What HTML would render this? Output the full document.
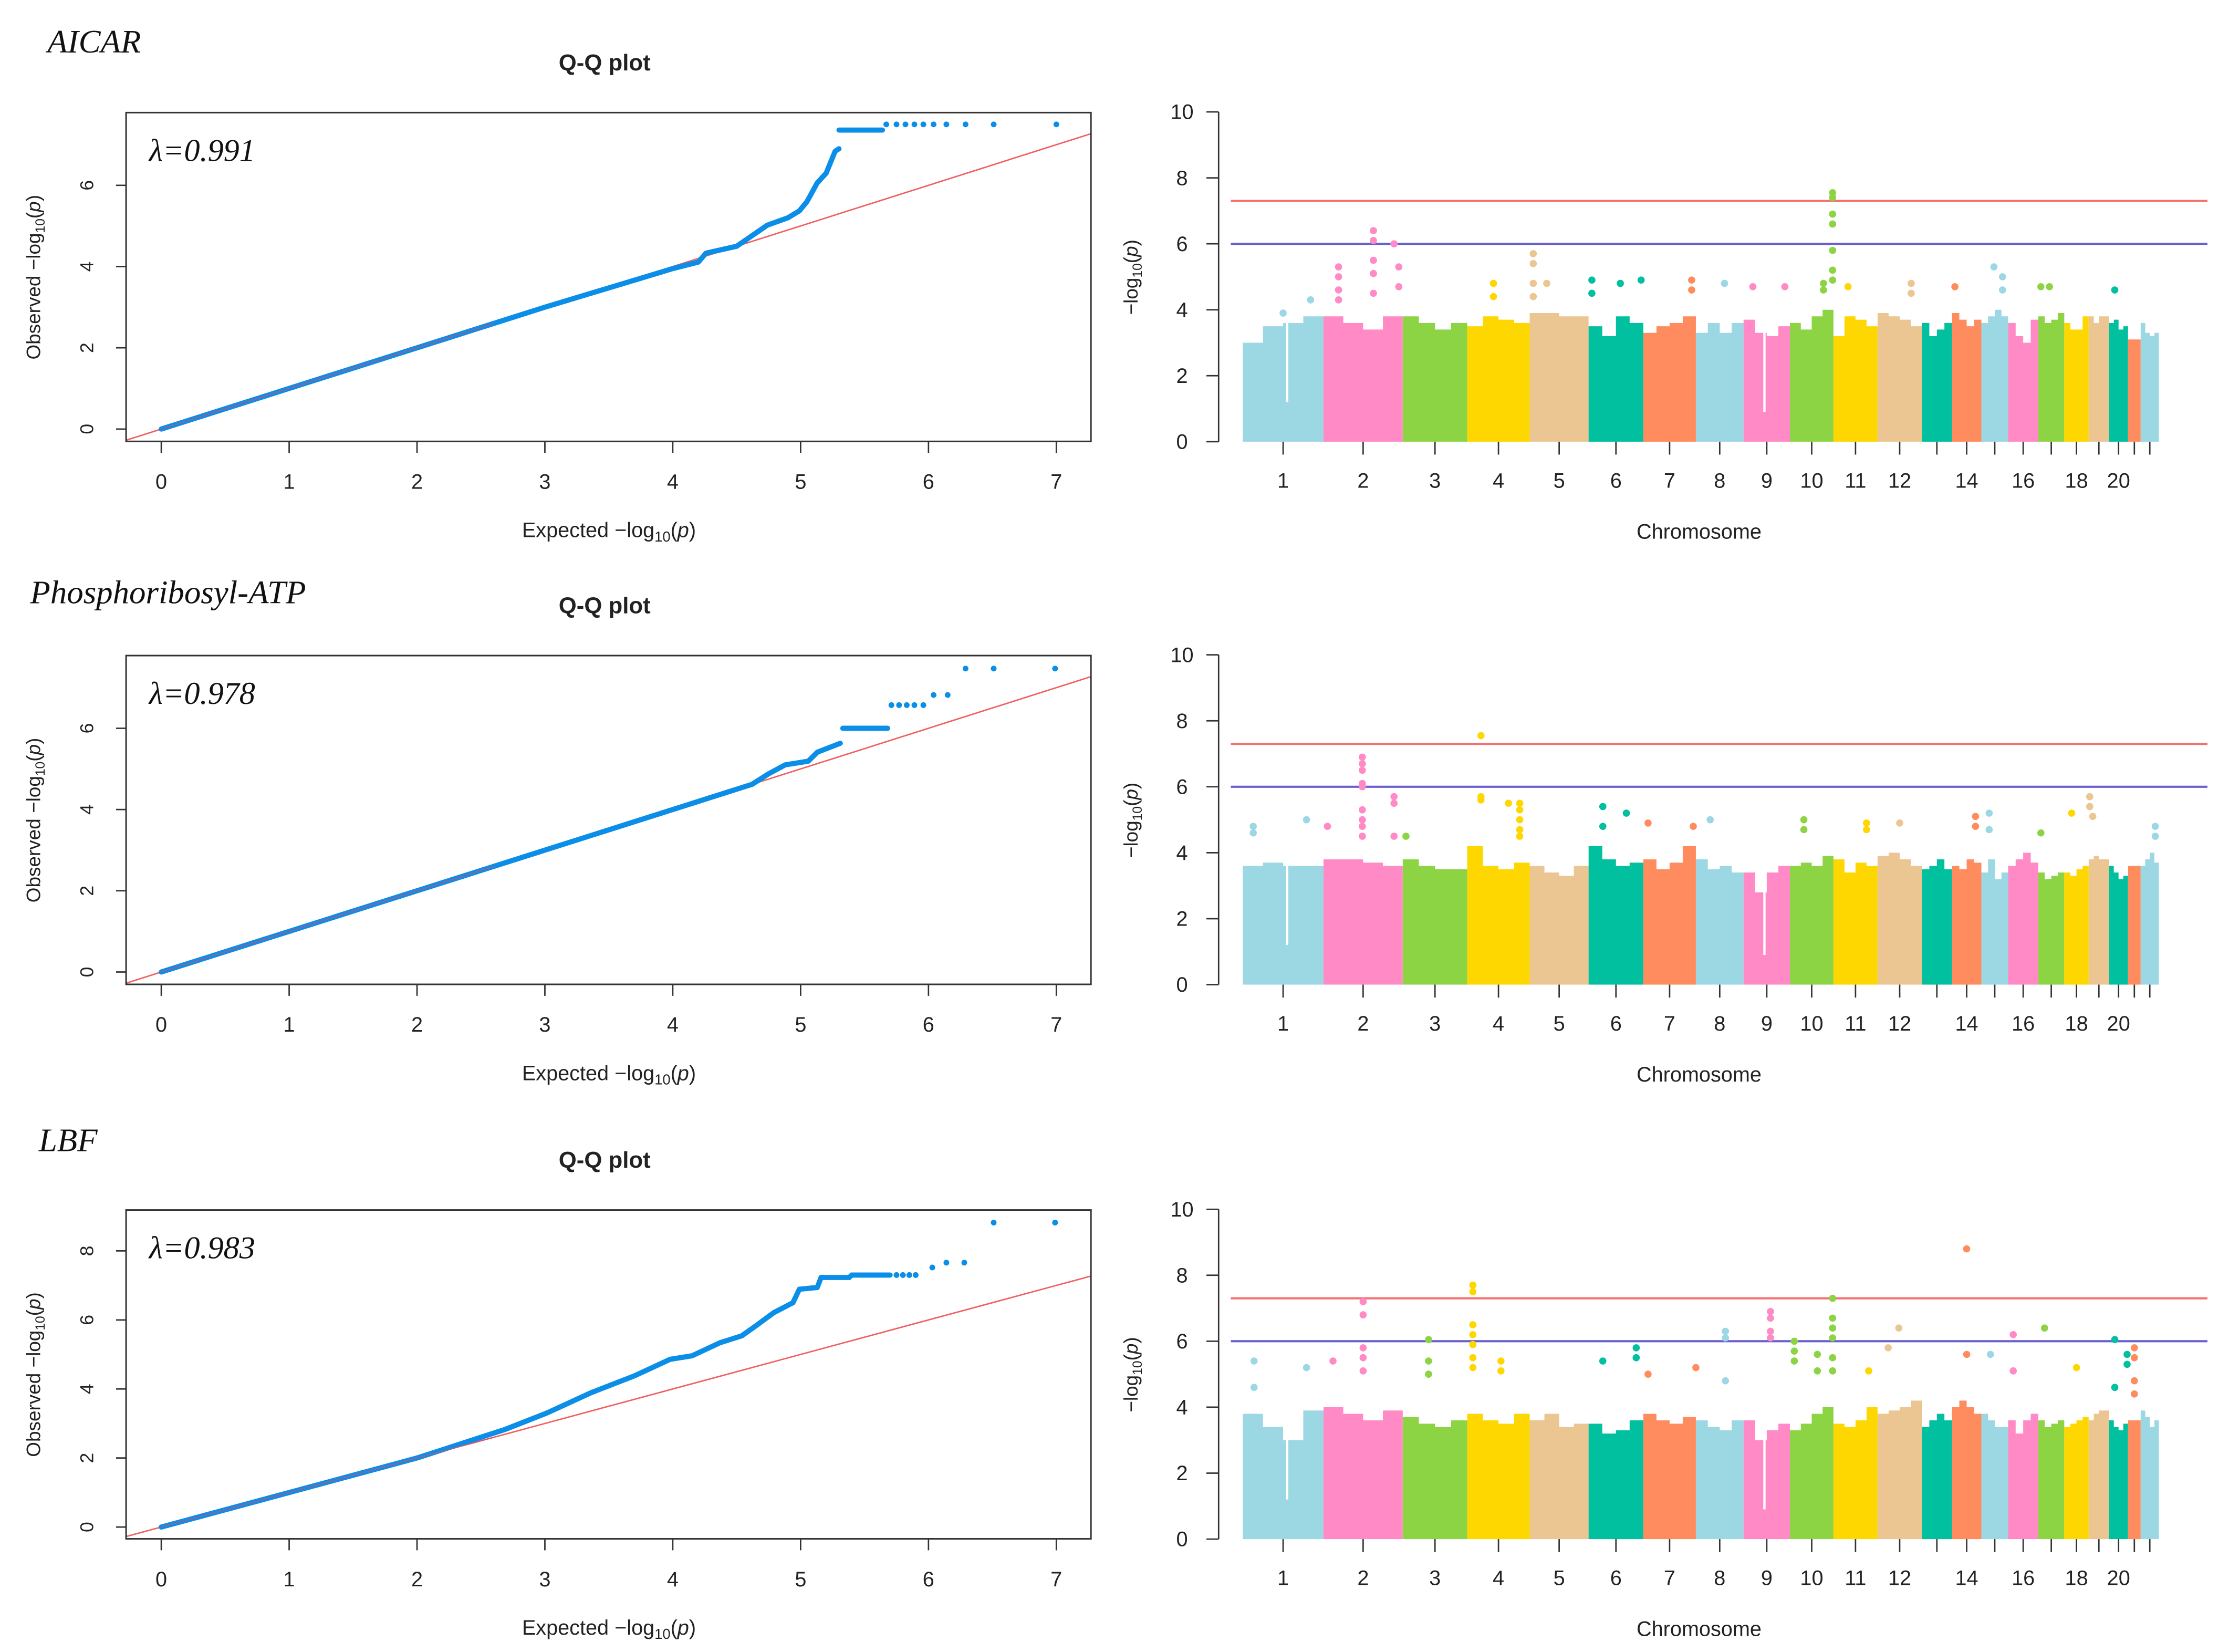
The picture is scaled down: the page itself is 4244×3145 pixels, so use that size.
<!DOCTYPE html>
<html><head><meta charset="utf-8"><style>
html,body{margin:0;padding:0;background:#fff;}
svg{display:block;}
text{font-family:"Liberation Sans Narrow","Liberation Sans",sans-serif;fill:#222;}
.serif{font-family:"Liberation Serif",serif;font-style:italic;fill:#111;}
</style></head><body>
<svg id="fig" xmlns="http://www.w3.org/2000/svg" width="4244" height="3145" viewBox="0 0 1552 1150.1" preserveAspectRatio="none"></svg>
<script>
// ---------- data ----------
const chrLen = [56.2,55.2,44.9,43.5,41.0,38.1,36.6,33.2,32.3,30.3,30.7,30.8,21.0,20.5,18.6,21.0,18.1,17.0,14.2,13.2,8.8,12.7];
const chrLabels = ["1","2","3","4","5","6","7","8","9","10","11","12","","14","","16","","18","","20","",""];
const yTicksMan = [0,2,4,6,8,10];
const qqXTicks = [0,1,2,3,4,5,6,7];
const qqYTicks12 = [0,2,4,6];
const qqYTicks3 = [0,2,4,6,8];
const panelTitles = ["AICAR","Phosphoribosyl-ATP","LBF"];
const lambdas = ["λ=0.991","λ=0.978","λ=0.983"];
const sigLine = 7.3;
const sugLine = 6;

// Manhattan body ceilings (4 segments per chromosome)
const body1 = [[3.0,3.5,3.6,3.8],[3.8,3.6,3.4,3.8],[3.8,3.6,3.4,3.6],[3.5,3.8,3.7,3.6],[3.9,3.9,3.8,3.8],[3.5,3.2,3.8,3.6],[3.3,3.5,3.6,3.8],[3.3,3.6,3.3,3.6],[3.7,3.3,3.2,3.5],[3.6,3.4,3.8,4.0],[3.2,3.8,3.7,3.5],[3.9,3.8,3.7,3.5],[3.6,3.2,3.4,3.6],[3.9,3.7,3.5,3.7],[3.6,3.8,4.0,3.8],[3.6,3.2,3.0,3.7],[3.8,3.6,3.7,3.9],[3.6,3.4,3.4,3.8],[3.8,3.6,3.8,3.8],[3.6,3.7,3.4,3.5],[3.1,3.1,3.1,3.1],[3.6,3.3,3.2,3.3]];
const body2 = [[3.6,3.7,3.6,3.6],[3.8,3.8,3.7,3.6],[3.8,3.6,3.5,3.5],[4.2,3.6,3.5,3.7],[3.6,3.4,3.3,3.6],[4.2,3.8,3.6,3.7],[3.8,3.5,3.7,4.2],[3.8,3.5,3.6,3.4],[3.4,2.8,3.4,3.6],[3.6,3.7,3.6,3.9],[3.8,3.4,3.7,3.6],[3.9,4.0,3.8,3.6],[3.5,3.6,3.8,3.5],[3.6,3.5,3.8,3.7],[3.4,3.8,3.2,3.4],[3.6,3.8,4.0,3.7],[3.4,3.2,3.3,3.4],[3.4,3.3,3.5,3.6],[3.8,3.9,3.8,3.8],[3.6,3.4,3.2,3.3],[3.6,3.6,3.6,3.6],[3.6,3.8,4.0,3.7]];
const body3 = [[3.8,3.4,3.0,3.9],[4.0,3.8,3.6,3.9],[3.7,3.5,3.4,3.6],[3.8,3.6,3.5,3.8],[3.6,3.8,3.4,3.5],[3.5,3.2,3.3,3.6],[3.8,3.6,3.5,3.7],[3.6,3.4,3.3,3.6],[3.6,3.0,3.3,3.5],[3.3,3.5,3.8,4.0],[3.5,3.4,3.6,4.0],[3.8,3.9,4.0,4.2],[3.4,3.6,3.8,3.6],[4.0,4.2,4.0,3.8],[3.8,3.6,3.4,3.4],[3.6,3.2,3.6,3.8],[3.6,3.4,3.5,3.6],[3.4,3.5,3.6,3.7],[3.6,3.8,3.9,3.9],[3.6,3.4,3.3,3.5],[3.6,3.6,3.6,3.6],[3.9,3.7,3.4,3.6]];

// Manhattan outliers: chromosome index (0-based), fractional position, -log10(p)
const hitChr1 = [1,1,1,1,1,1,1,1,1,1,1,1,4,4,4,4,4,3,3,9,9,9,9,9,9,9,5,5,5,5,6,6,7,8,8,9,9,10,11,11,13,14,14,14,16,16,19,0,0];
const hitPos1 = [.19,.19,.19,.19,.63,.63,.63,.63,.63,.89,.95,.95,.06,.06,.06,.06,.29,.42,.42,.98,.98,.98,.98,.98,.98,.98,.06,.06,.58,.96,.92,.92,.6,.2,.89,.77,.77,.33,.76,.76,.1,.47,.79,.79,.1,.43,.3,.5,.84];
const hitVal1 = [5.3,5.0,4.6,4.3,6.4,6.1,5.5,5.1,4.5,6.0,5.3,4.7,5.7,5.4,4.8,4.4,4.8,4.8,4.4,7.55,7.4,6.9,6.6,5.8,5.2,4.9,4.9,4.5,4.8,4.9,4.9,4.6,4.8,4.7,4.7,4.8,4.6,4.7,4.8,4.5,4.7,5.3,5.0,4.6,4.7,4.7,4.6,3.9,4.3];
const hitChr2 = [1,1,1,1,1,1,1,1,1,1,1,1,1,3,3,3,3,3,3,3,3,3,0,0,0,2,5,5,5,6,6,7,9,9,10,10,11,13,13,14,14,16,17,18,18,18,21,21];
const hitPos2 = [.49,.49,.49,.49,.49,.49,.49,.49,.49,.89,.89,.89,.05,.22,.22,.22,.66,.84,.84,.84,.84,.84,.13,.13,.79,.05,.26,.26,.69,.09,.95,.3,.32,.32,.75,.75,.5,.8,.8,.29,.29,.1,.3,.05,.05,.2,.8,.8];
const hitVal2 = [6.9,6.7,6.5,6.1,6.0,5.3,5.0,4.8,4.5,5.7,5.5,4.5,4.8,7.55,5.7,5.6,5.5,5.5,5.3,5.0,4.7,4.5,4.8,4.6,5.0,4.5,5.4,4.8,5.2,4.9,4.8,5.0,5.0,4.7,4.9,4.7,4.9,5.1,4.8,5.2,4.7,4.6,5.2,5.7,5.4,5.1,4.8,4.5];
const hitChr3 = [1,1,1,1,1,1,2,2,2,3,3,3,3,3,3,3,3,3,0,0,0,5,5,5,6,6,7,7,7,8,8,8,8,9,9,9,9,9,9,9,9,9,9,9,10,11,11,13,13,14,15,15,16,17,19,19,19,19,20,20,20,20];
const hitPos3 = [.5,.5,.5,.5,.5,.12,.4,.4,.4,.09,.09,.09,.09,.09,.09,.09,.54,.54,.14,.14,.79,.26,.87,.87,.09,1,.62,.62,.62,.58,.58,.58,.58,.1,.1,.1,.63,.63,.98,.98,.98,.98,.98,.98,.8,.48,.24,.5,.5,.34,.17,.17,.24,.5,.3,.3,.95,.95,.5,.5,.5,.5];
const hitVal3 = [7.2,6.8,5.8,5.5,5.1,5.4,6.05,5.4,5.0,7.7,7.5,6.5,6.2,5.9,5.5,5.2,5.4,5.1,5.4,4.6,5.2,5.4,5.8,5.5,5.0,5.2,6.3,6.1,4.8,6.9,6.7,6.3,6.1,6.0,5.7,5.4,5.6,5.1,7.3,6.7,6.4,6.1,5.5,5.1,5.1,6.4,5.8,8.8,5.6,5.6,6.2,5.1,6.4,5.2,6.05,4.6,5.6,5.3,5.8,5.5,4.8,4.4];
// white gaps (centromeres)
const gapChr = [0,8];
const gapPos = [0.55,0.45];
const gapLow = [1.2,0.9];

// Q-Q data: thick curve, flat run, and isolated points
const qqCurveExp1 = [0,1,2,3,4,4.2,4.26,4.5,4.74,4.9,4.99,5.05,5.13,5.2,5.27,5.3];
const qqCurveObs1 = [0,1,2,3,3.95,4.11,4.33,4.5,5.02,5.2,5.37,5.6,6.06,6.3,6.84,6.9];
const qqFlatExp1 = [5.3,5.64];
const qqFlatObs1 = [7.36,7.36];
const qqDotExp1 = [5.67,5.75,5.82,5.89,5.96,6.04,6.14,6.29,6.51,7.0];
const qqDotObs1 = [7.5,7.5,7.5,7.5,7.5,7.5,7.5,7.5,7.5,7.5];

const qqCurveExp2 = [0,1,2,3,4,4.62,4.75,4.88,5.06,5.13,5.31];
const qqCurveObs2 = [0,1,2,3,4,4.62,4.88,5.10,5.19,5.41,5.63];
const qqFlatExp2 = [5.33,5.68];
const qqFlatObs2 = [6.0,6.0];
const qqDotExp2 = [5.71,5.77,5.83,5.89,5.96,6.04,6.15,6.29,6.51,6.99];
const qqDotObs2 = [6.57,6.57,6.57,6.57,6.57,6.82,6.82,7.47,7.47,7.47];

const qqCurveExp3 = [0,1,2,2.69,3.02,3.36,3.70,3.98,4.15,4.37,4.54,4.65,4.79,4.94,4.99,5.13,5.16];
const qqCurveObs3 = [0,1,2,2.83,3.31,3.89,4.38,4.86,4.96,5.34,5.54,5.83,6.21,6.50,6.89,6.94,7.23];
const qqFlatExp3 = [5.16,5.38,5.4,5.7];
const qqFlatObs3 = [7.23,7.23,7.3,7.3];
const qqDotExp3 = [5.75,5.8,5.85,5.9,6.03,6.14,6.28,6.51,6.99];
const qqDotObs3 = [7.3,7.3,7.3,7.3,7.52,7.66,7.66,8.82,8.82];

// ---------- drawing ----------
const NS = "http://www.w3.org/2000/svg";
const svg = document.getElementById("fig");
function mk(tag, attrs, parent){
  const e = document.createElementNS(NS, tag);
  for (const k in attrs) e.setAttribute(k, attrs[k]);
  (parent||svg).appendChild(e);
  return e;
}
const colors = ["#9cd7e4","#ff8ac6","#8dd444","#ffd700","#ebc592","#00c0a0","#ff8c5e"];
const panelOffsets = [0,378,764];

function drawQQ(p, cExp, cObs, fExp, fObs, dExp, dObs, yTicks, yUnit, y0){
  const off = panelOffsets[p];
  const g = mk("g", {});
  
  
  const L=87.8, R=759.6, T=78.4+off, B=307.3+off;
  const X = e => 112.3 + e*89.03;
  const Y = o => y0 + off - o*yUnit;
  const tt = mk("text", {x:421, y:49+off, "text-anchor":"middle", "font-size":16, "font-weight":"bold"}, g);
  tt.textContent = "Q-Q plot";
  
  
  const cp = mk("clipPath", {id:"clip"+p}, g);
  mk("rect", {x:L, y:T, width:R-L, height:B-T}, cp);
  const e0 = (L-112.3)/89.03;
  const e1 = Math.min((R-112.3)/89.03, (y0+off-T)/yUnit);
  const rl = mk("line", {x1:X(e0), y1:Y(e0), x2:X(e1), y2:Y(e1), stroke:"#f06060", "stroke-width":1, "clip-path":"url(#clip"+p+")"}, g);
  
  
  let pts = cExp.map((e,i)=>X(e)+","+Y(cObs[i])).join(" ");
  const pl = mk("polyline", {points:pts, fill:"none", stroke:"#0a8ee8", "stroke-width":3.6, "stroke-linejoin":"round", "stroke-linecap":"round"}, g);
  
  
  const fl = mk("polyline", {points:fExp.map((e,i)=>X(e)+","+Y(fObs[i])).join(" "), fill:"none", stroke:"#0a8ee8", "stroke-width":3.6, "stroke-linecap":"round"}, g);
  
  
  const rl2 = mk("line", {x1:X(0), y1:Y(0), x2:X(2.6), y2:Y(2.6), stroke:"#d05070", "stroke-width":0.8, opacity:0.7}, g);
  
  
  dExp.forEach((e,i)=>{
    const c = mk("circle", {cx:X(e), cy:Y(dObs[i]), r:2.0, fill:"#0a8ee8"}, g);
    
    
  });
  const bx = mk("rect", {x:L, y:T, width:R-L, height:B-T, fill:"none", stroke:"#333", "stroke-width":1.1}, g);
  
  
  qqXTicks.forEach(t=>{
    const tk = mk("line", {x1:X(t), y1:B, x2:X(t), y2:B+8, stroke:"#333", "stroke-width":1}, g);
    
    
    const tl = mk("text", {x:X(t), y:B+33, "text-anchor":"middle", "font-size":14.5}, g);
    tl.textContent = t;
    
    
  });
  yTicks.forEach(t=>{
    const tk = mk("line", {x1:L, y1:Y(t), x2:L-7, y2:Y(t), stroke:"#333", "stroke-width":1}, g);
    
    
    const tl = mk("text", {x:0, y:0, "text-anchor":"middle", "font-size":13, transform:"translate(65,"+Y(t)+") rotate(-90)", "font-family":"Liberation Sans, sans-serif"}, g);
    tl.textContent = t;
    
    
  });
  const yt = mk("text", {x:0, y:0, "text-anchor":"middle", "font-size":13.5, transform:"translate(28,"+(193+off)+") rotate(-90)", "font-family":"Liberation Sans, sans-serif"}, g);
  yt.innerHTML = 'Observed  −log<tspan font-size="9" dy="3">10</tspan><tspan dy="-3">(</tspan><tspan font-style="italic">p</tspan>)';
  
  
  const xt = mk("text", {x:424, y:374+off, "text-anchor":"middle", "font-size":14.5}, g);
  xt.innerHTML = 'Expected  −log<tspan font-size="10" dy="3">10</tspan><tspan dy="-3">(</tspan><tspan font-style="italic">p</tspan>)';
  
  
  const lt = mk("text", {x:103.8, y:112+off, "font-size":22, "class":"serif"}, g);
  lt.textContent = lambdas[p];
  
  
}

function drawManhattan(p, body, hChr, hPos, hVal){
  const off = panelOffsets[p];
  const g = mk("g", {});
  
  
  const y0 = 307.5 + off, unit = 22.96;
  const Y = v => y0 - v*unit;
  const x0 = 865.3, W = 637.9;
  const total = chrLen.reduce((a,b)=>a+b,0);
  const starts = [];
  let cum = 0;
  chrLen.forEach(l=>{ starts.push(cum); cum += l; });
  const X = (c,f) => x0 + (starts[c] + f*chrLen[c])/total*W;
  chrLen.forEach((l,c)=>{
    let d = "M"+X(c,0)+","+y0;
    body[c].forEach((h,k)=>{
      d += " L"+X(c,k/4)+","+Y(h)+" L"+X(c,(k+1)/4)+","+Y(h);
    });
    d += " L"+X(c,1)+","+y0+" Z";
    const pth = mk("path", {d:d, fill:colors[c%7]}, g);
    
    
  });
  gapChr.forEach((c,i)=>{
    const r = mk("rect", {x:X(c,gapPos[i])-0.8, y:Y(4.2), width:1.6, height:(4.2-gapLow[i])*unit, fill:"#fff"}, g);
    
    
  });
  const ln1 = mk("line", {x1:857, y1:Y(sigLine), x2:1537, y2:Y(sigLine), stroke:"#f47070", "stroke-width":1.5}, g);
  
  
  const ln2 = mk("line", {x1:857, y1:Y(sugLine), x2:1537, y2:Y(sugLine), stroke:"#6a5fd0", "stroke-width":1.5}, g);
  
  
  hChr.forEach((c,i)=>{
    const ce = mk("circle", {cx:X(c,hPos[i]), cy:Y(hVal[i]), r:2.5, fill:colors[c%7]}, g);
    
    
  });
  const ax = mk("line", {x1:848.5, y1:Y(0), x2:848.5, y2:Y(10), stroke:"#333", "stroke-width":1}, g);
  
  
  yTicksMan.forEach(t=>{
    const tk = mk("line", {x1:848.5, y1:Y(t), x2:840, y2:Y(t), stroke:"#333", "stroke-width":1}, g);
    
    
    const tl = mk("text", {x:823, y:Y(t)+5, "text-anchor":"middle", "font-size":14.5}, g);
    tl.textContent = t;
    
    
  });
  chrLen.forEach((l,c)=>{
    const tx = X(c,0.5);
    const tk = mk("line", {x1:tx, y1:y0, x2:tx, y2:y0+9, stroke:"#333", "stroke-width":1}, g);
    
    
    if (chrLabels[c]) {
      const tl = mk("text", {x:tx, y:y0+32, "text-anchor":"middle", "font-size":14.5}, g);
      tl.textContent = chrLabels[c];
      
      
    }
  });
  const xt = mk("text", {x:1183, y:375+off, "text-anchor":"middle", "font-size":14.5}, g);
  xt.textContent = "Chromosome";
  
  
  const yt = mk("text", {x:0, y:0, "text-anchor":"middle", "font-size":13.5, transform:"translate(792,"+(193+off)+") rotate(-90)", "font-family":"Liberation Sans, sans-serif"}, g);
  yt.innerHTML = '−log<tspan font-size="9" dy="3">10</tspan><tspan dy="-3">(</tspan><tspan font-style="italic">p</tspan>)';
  
  
}

const titleX = [33,21,27];
const titleY = [36.5,420,801.5];
panelTitles.forEach((t,i)=>{
  const tx = mk("text", {x:titleX[i], y:titleY[i], "font-size":23, "class":"serif"});
  tx.textContent = t;
  
  
});

drawQQ(0, qqCurveExp1, qqCurveObs1, qqFlatExp1, qqFlatObs1, qqDotExp1, qqDotObs1, qqYTicks12, 28.28, 298.7);
drawQQ(1, qqCurveExp2, qqCurveObs2, qqFlatExp2, qqFlatObs2, qqDotExp2, qqDotObs2, qqYTicks12, 28.28, 298.7);
drawQQ(2, qqCurveExp3, qqCurveObs3, qqFlatExp3, qqFlatObs3, qqDotExp3, qqDotObs3, qqYTicks3, 24.03, 299.1);
drawManhattan(0, body1, hitChr1, hitPos1, hitVal1);
drawManhattan(1, body2, hitChr2, hitPos2, hitVal2);
drawManhattan(2, body3, hitChr3, hitPos3, hitVal3);
</script>
</body></html>
